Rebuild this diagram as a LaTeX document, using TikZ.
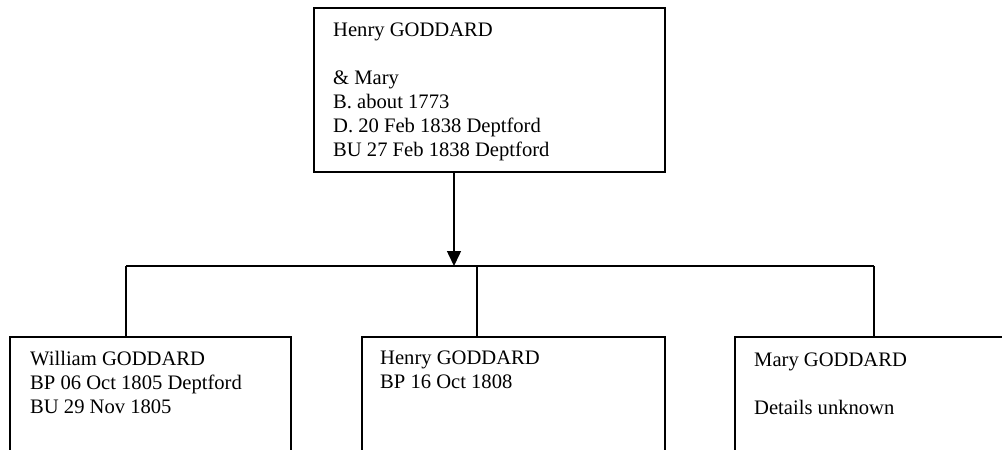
\documentclass[tikz,border=0pt]{standalone}
\usepackage{fontspec}
\setmainfont{Liberation Serif}
\usetikzlibrary{arrows.meta}
\begin{document}
\begin{tikzpicture}[x=1pt,y=-1pt,
  box/.style={draw=black, line width=1.5pt, rectangle, inner sep=0pt, anchor=north west},
  txt/.style={align=left, anchor=base west, inner sep=0pt, font=\fontsize{20.6}{24}\selectfont},
  link/.style={draw=black, line width=1.5pt},
  arr/.style={link, -{Triangle[length=15pt,width=14pt]}}]
\useasboundingbox (0,0) rectangle (1002,450);
\fill[white] (0,0) rectangle (1002,450);
\clip (0,0) rectangle (1002,450);
% parent box
\node[box, minimum width=351pt, minimum height=164pt] (parents) at (313,7) {};
\node[txt] (ptxt) at (333,156) {Henry GODDARD\\ \\ \& Mary\\B. about 1773\\D. 20 Feb 1838 Deptford\\BU 27 Feb 1838 Deptford};
% children boxes
\node[box, minimum width=281pt, minimum height=200pt] (c1) at (9,336) {};
\node[txt] (c1txt) at (30,413) {William GODDARD\\BP 06 Oct 1805 Deptford\\BU 29 Nov 1805};
\node[box, minimum width=303pt, minimum height=200pt] (c2) at (361,336) {};
\node[txt] (c2txt) at (380,388) {Henry GODDARD\\BP 16 Oct 1808};
\node[box, minimum width=320pt, minimum height=200pt] (c3) at (734,336) {};
\node[txt] (c3txt) at (754,414) {Mary GODDARD\\ \\ Details unknown};
% connectors
\coordinate (j) at (454,266);
\coordinate (hl) at (126,266);
\coordinate (hm) at (477,266);
\coordinate (hr) at (874,266);
\draw[arr] (parents.south -| j) -- (j);
\draw[link] (hl) -- (hr);
\draw[link] (hl) -- (hl |- c1.north);
\draw[link] (hm) -- (hm |- c2.north);
\draw[link] (hr) -- (hr |- c3.north);
\end{tikzpicture}
\end{document}
